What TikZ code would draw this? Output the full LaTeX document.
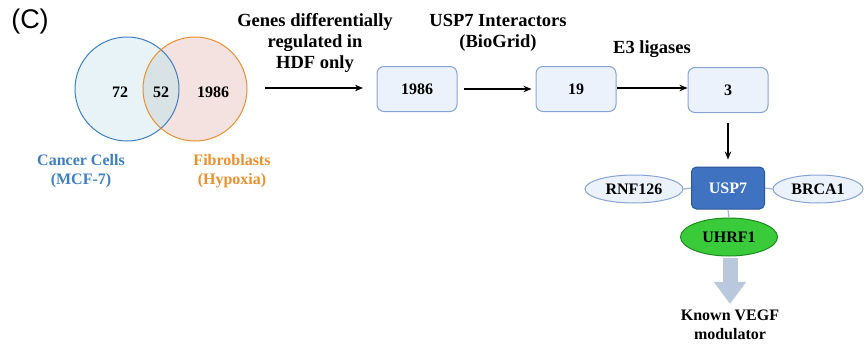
\documentclass[tikz,border=0pt]{standalone}
\usepackage{fontspec}
\setmainfont{Liberation Serif}
\newfontfamily\sansf{Liberation Sans}
\usetikzlibrary{arrows.meta,shapes.geometric}
\definecolor{boxfill}{HTML}{EBF2FC}
\definecolor{boxdraw}{HTML}{86A3D3}
\definecolor{venblue}{HTML}{3F7FBF}
\definecolor{venorange}{HTML}{E8902F}
\definecolor{venbluefill}{HTML}{E7F3F7}
\definecolor{venredfill}{HTML}{F3E2DF}
\definecolor{venmid}{HTML}{D9E3E6}
\definecolor{uspfill}{HTML}{3F73C2}
\definecolor{uspdraw}{HTML}{2B5598}
\definecolor{greenfill}{HTML}{3ACB3A}
\definecolor{greendraw}{HTML}{1E8A1E}
\definecolor{linkc}{HTML}{9DB3D2}
\definecolor{thickc}{HTML}{B9C8DC}
\begin{document}
\begin{tikzpicture}[x=1pt,y=-1pt,
  hdr/.style={font=\bfseries\fontsize{18.5}{21}\selectfont, align=center, inner sep=0pt},
  num/.style={font=\bfseries\fontsize{16}{19}\selectfont},
  stepbox/.style={draw=boxdraw, fill=boxfill, rounded corners=7pt, minimum width=80pt, minimum height=45pt, line width=1pt, num},
  arr/.style={-{Stealth[length=8pt,width=6.5pt]}, line width=1.2pt},
  prot/.style={ellipse, draw=boxdraw, fill=boxfill, minimum width=98pt, minimum height=28pt, num, inner sep=0pt, line width=1pt},
  link/.style={draw=linkc, line width=1.2pt},
  vlab/.style={font=\bfseries\fontsize{16}{19}\selectfont, align=center, inner sep=0pt}]
\useasboundingbox (0,0) rectangle (865,343);

% panel label
\node[font=\sansf\fontsize{27}{29}\selectfont, inner sep=0pt] (lbl) at (30,22) {(C)};

% Venn
\node[circle, minimum size=104pt, fill=venbluefill, inner sep=0pt] (cL) at (127,89) {};
\node[circle, minimum size=104pt, fill=venredfill, inner sep=0pt] (cR) at (195,89) {};
\begin{scope}
  \clip (127,89) circle (52pt);
  \fill[venmid] (195,89) circle (52pt);
\end{scope}
\draw[venblue, line width=1pt] (cL) circle (52pt);
\draw[venorange, line width=1pt] (cR) circle (52pt);
\node[num] (n72) at (120,92) {72};
\node[num] (n52) at (161,92) {52};
\node[num] (n1986v) at (213,92) {1986};
\node[vlab, text=venblue] (canc) at (81,171) {Cancer Cells\\(MCF-7)};
\node[vlab, text=venorange] (fib) at (232,171) {Fibroblasts\\(Hypoxia)};

% headers
\node[hdr] (h1) at (315,43) {Genes differentially\\regulated in\\HDF only};
\node[hdr] (h2) at (498,32.5) {USP7 Interactors\\(BioGrid)};
\node[hdr] (h3) at (652,49) {E3 ligases};

% pipeline
\node[stepbox] (b1) at (417,89) {1986};
\node[stepbox] (b2) at (576,89) {19};
\node[stepbox] (b3) at (728,90) {3};
\coordinate (start) at (265,88);
\draw[arr] (start) -- (363,88);
\draw[arr, shorten <=6pt, shorten >=4pt] (b1.east) -- (b2.west);
\draw[arr] (b2.east |- 0,88) -- (b3.west |- 0,88);

% protein network
\node[draw=uspdraw, fill=uspfill, rounded corners=5pt, minimum width=73pt, minimum height=42pt, line width=1pt, num, text=white] (usp) at (728,188) {USP7};
\node[prot] (rnf) at (634,189) {RNF126};
\node[prot, minimum width=90pt] (brca) at (818,189) {BRCA1};
\node[ellipse, draw=greendraw, fill=greenfill, minimum width=97pt, minimum height=38pt, inner sep=0pt, line width=1pt, num] (uhrf) at (729,237) {UHRF1};
\draw[arr, shorten <=10pt, shorten >=7pt] (b3.south) -- (usp.north);
\draw[link] (rnf.east) -- (usp.west);
\draw[link] (usp.east) -- (brca.west);
\draw[link] (usp.south) -- (uhrf.north);

\node[vlab] (known) at (730,325) {Known VEGF\\modulator};
\draw[thickc, line width=15pt, -{Triangle[length=22pt,width=31pt]}, shorten <=1pt, shorten >=6pt] (uhrf.south -| known.north) -- (known.north);
\end{tikzpicture}
\end{document}
